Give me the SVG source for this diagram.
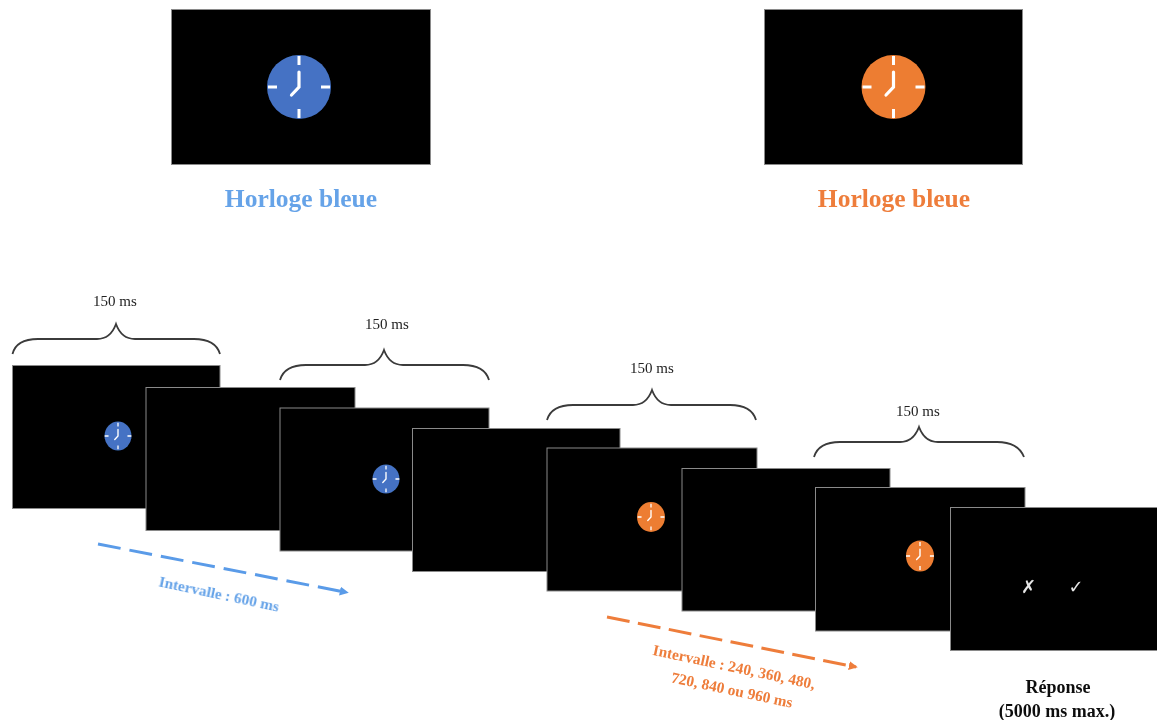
<svg xmlns="http://www.w3.org/2000/svg" width="1157" height="720" viewBox="0 0 1157 720">
<style>
.screen{fill:#000;stroke:#8a8a8a;stroke-width:1}
.brace{fill:none;stroke:#3a3a3a;stroke-width:1.8}
.lbl{font-family:"Liberation Serif",serif;font-size:15px;fill:#222;text-anchor:middle}
.title{font-family:"Liberation Serif",serif;font-size:25.500px;font-weight:bold;text-anchor:middle}
.note{font-family:"Liberation Serif",serif;font-size:15.400px;font-weight:bold;text-anchor:middle}
.resp{font-family:"Liberation Serif",serif;font-size:18px;font-weight:bold;text-anchor:middle;fill:#111}
.mark{font-family:"DejaVu Sans",sans-serif;font-size:18px;fill:#e6e6e6;text-anchor:middle}
.blue{fill:#66a3e8}.orange{fill:#ee7d3b}
.tick{stroke:#fff;fill:none;stroke-width:3}
.hand{stroke:#fff;fill:none;stroke-linecap:round;stroke-width:3.200}
.dash{fill:none;stroke-width:3}
</style>
<defs>
<filter id="soft" x="-2%" y="-2%" width="104%" height="104%"><feGaussianBlur stdDeviation="0.55"/></filter>
<g id="face">
<path class="tick" d="M0-31V-22M0 22V31M-31 0H-22M22 0H31"/>
<path class="hand" d="M0-15V0L-7.500 8"/>
</g>
<marker id="ab" viewBox="0 0 10 10" refX="8" refY="5" markerWidth="3" markerHeight="3" orient="auto"><path d="M0 0L10 5L0 10z" fill="#5a9be8"/></marker>
<marker id="ao" viewBox="0 0 10 10" refX="8" refY="5" markerWidth="3" markerHeight="3" orient="auto"><path d="M0 0L10 5L0 10z" fill="#ee7d3b"/></marker>
</defs>
<rect width="1157" height="720" fill="#fff"/>
<g filter="url(#soft)">
<g id="clock-blue"><rect class="screen" x="171.500" y="9.500" width="259" height="155"/><circle cx="299" cy="87" r="32" fill="#4472c4"/><use href="#face" x="299" y="87"/></g>
<g id="clock-orange"><rect class="screen" x="764.500" y="9.500" width="258" height="155"/><circle cx="893.500" cy="87" r="32" fill="#ed7d31"/><use href="#face" x="893.500" y="87"/></g>
<text id="label-blue" class="title blue" x="301" y="207">Horloge bleue</text>
<text id="label-orange" class="title orange" x="894" y="207">Horloge bleue</text>

<g id="braces">
<path class="brace" d="M12.500 354C15 344 24 339 38 339H97C106 339 112 335 116 324C120 335 126 339 135 339H194C208 339 217 344 220 354"/>
<path class="brace" d="M280 380C283 370 292 365 306 365H365C374 365 380 361 384 350C388 361 394 365 403 365H463C477 365 486 370 489 380"/>
<path class="brace" d="M547 420C550 410 559 405 573 405H633C642 405 648 401 652 390C656 401 662 405 671 405H730C744 405 753 410 756 420"/>
<path class="brace" d="M814 457C817 447 826 442 840 442H900C909 442 915 438 919 427C923 438 929 442 938 442H997C1011 442 1020 447 1024 457"/>
</g>
<text class="lbl" x="115" y="306">150 ms</text>
<text class="lbl" x="387" y="329">150 ms</text>
<text class="lbl" x="652" y="373">150 ms</text>
<text class="lbl" x="918" y="416">150 ms</text>

<g id="screen-1"><rect class="screen" x="12.500" y="365.500" width="207.500" height="143"/><ellipse cx="118" cy="436" rx="13.500" ry="14.500" fill="#4472c4"/><use href="#face" transform="translate(118 436) scale(.43)"/></g>
<g id="screen-2"><rect class="screen" x="146" y="387.500" width="209" height="143"/></g>
<g id="screen-3"><rect class="screen" x="280" y="408" width="209" height="143"/><ellipse cx="386" cy="479" rx="13.500" ry="14.500" fill="#4472c4"/><use href="#face" transform="translate(386 479) scale(.43)"/></g>
<g id="screen-4"><rect class="screen" x="412.500" y="428.500" width="207.500" height="143"/></g>
<g id="screen-5"><rect class="screen" x="547" y="448" width="210" height="143"/><ellipse cx="651" cy="517" rx="14" ry="15" fill="#ed7d31"/><use href="#face" transform="translate(651 517) scale(.43)"/></g>
<g id="screen-6"><rect class="screen" x="682" y="468.500" width="208" height="142.500"/></g>
<g id="screen-7"><rect class="screen" x="815.500" y="487.500" width="209.500" height="143.500"/><ellipse cx="920" cy="556" rx="14" ry="15.500" fill="#ed7d31"/><use href="#face" transform="translate(920 556) scale(.45)"/></g>
<g id="screen-8"><rect class="screen" x="950.500" y="507.500" width="207" height="143"/>
<text class="mark" x="1028.500" y="593">✗</text>
<text class="mark" x="1076" y="593">✓</text></g>

<g id="connectors">
<path class="dash" stroke="#5a9be8" stroke-dasharray="23 9" marker-end="url(#ab)" d="M98 544L347 592.500"/>
<path class="dash" stroke="#ee7d3b" stroke-dasharray="23 8.500" marker-end="url(#ao)" d="M607 617L856 667"/>
</g>
<text class="note blue" transform="translate(218 599) rotate(12)">Intervalle : 600 ms</text>
<text class="note orange" transform="translate(733 672) rotate(12)">Intervalle : 240, 360, 480,</text>
<text class="note orange" transform="translate(731 695) rotate(12)">720, 840 ou 960 ms</text>
<text class="resp" x="1058" y="693">Réponse</text>
<text class="resp" x="1057" y="717">(5000 ms max.)</text>
</g>
</svg>
